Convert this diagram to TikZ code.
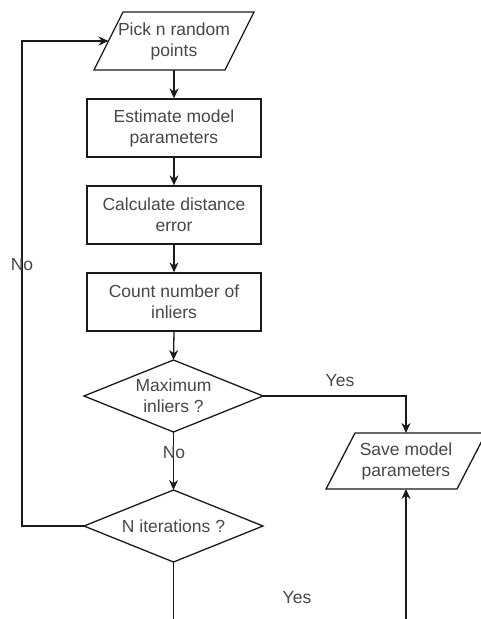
\documentclass[tikz,border=0pt]{standalone}
\usepackage{fontspec}
\setmainfont{Liberation Sans}
\usetikzlibrary{arrows.meta,calc}
\definecolor{txt}{HTML}{474747}
\definecolor{ln}{HTML}{1A1A1A}
\tikzset{
  lbl/.style={font=\fontsize{17.5}{21}\selectfont, text=txt, align=center, inner sep=0pt},
  procbox/.style={lbl, draw=ln, line width=1.3pt, minimum width=174pt, minimum height=58pt},
  io/.style={lbl},
  outline/.style={draw=ln, line width=1.3pt, line join=miter},
  conn/.style={draw=ln, line width=1.3pt, -{Stealth[length=10pt,width=9pt]}},
  plain/.style={draw=ln, line width=1.3pt},
}
\begin{document}
\begin{tikzpicture}[x=1pt,y=-1pt]
\useasboundingbox (0,0) rectangle (481,619);
\clip (0,0) rectangle (481,619);
% nodes
\node[io] (pick) at (174,41) {Pick n random\\points};
\draw[outline] ($(pick.center)+(-51,-29)$) -- ($(pick.center)+(80,-29)$) -- ($(pick.center)+(51,29)$) -- ($(pick.center)+(-80,29)$) -- cycle;
\coordinate (pickS) at ($(pick.center)+(0,29)$);
\coordinate (pickW) at ($(pick.center)+(-65.5,0)$);
\node[procbox] (est) at (174,128) {Estimate model\\parameters};
\node[procbox] (calc) at (174,215) {Calculate distance\\error};
\node[procbox] (count) at (174,302) {Count number of\\inliers};
\node[io] (maxd) at (173.5,396) {Maximum\\inliers ?};
\coordinate (maxdN) at ($(maxd.center)+(0,-36)$);
\coordinate (maxdS) at ($(maxd.center)+(0,36)$);
\coordinate (maxdE) at ($(maxd.center)+(89.5,0)$);
\draw[outline] (maxdN) -- (maxdE) -- (maxdS) -- ($(maxd.center)+(-89.5,0)$) -- cycle;
\node[io] (niter) at (173.5,526) {N iterations ?};
\coordinate (niterN) at ($(niter.center)+(0,-36)$);
\coordinate (niterS) at ($(niter.center)+(0,36)$);
\coordinate (niterW) at ($(niter.center)+(-89.5,0)$);
\draw[outline] (niterN) -- ($(niter.center)+(89.5,0)$) -- (niterS) -- (niterW) -- cycle;
\node[io] (save) at (406,461) {Save model\\parameters};
\draw[outline] ($(save.center)+(-51,-28)$) -- ($(save.center)+(80,-28)$) -- ($(save.center)+(51,28)$) -- ($(save.center)+(-80,28)$) -- cycle;
\coordinate (saveN) at ($(save.center)+(0,-28)$);
\coordinate (saveS) at ($(save.center)+(0,28)$);
\coordinate (loopx) at (22,0);
\coordinate (endA) at (173.5,640);
\coordinate (endB) at (406,640);
% connectors
\draw[conn] (pickS) -- (est.north);
\draw[conn] (est.south) -- (calc.north);
\draw[conn] (calc.south) -- (count.north);
\draw[conn] (count.south) -- (maxdN);
\draw[conn] (maxdS) -- (niterN);
\draw[conn] (maxdE) -| (saveN);
\draw[conn] (niterW) -- (niterW -| loopx) |- (pickW);
\draw[plain] (niterS) -- (endA);
\draw[conn] (endB) -- (saveS);
% labels
\node[lbl] (noA) at (22,265) {No};
\node[lbl] (noB) at (174,453) {No};
\node[lbl] (yesA) at (340,381) {Yes};
\node[lbl] (yesB) at (297,598) {Yes};
\end{tikzpicture}
\end{document}
